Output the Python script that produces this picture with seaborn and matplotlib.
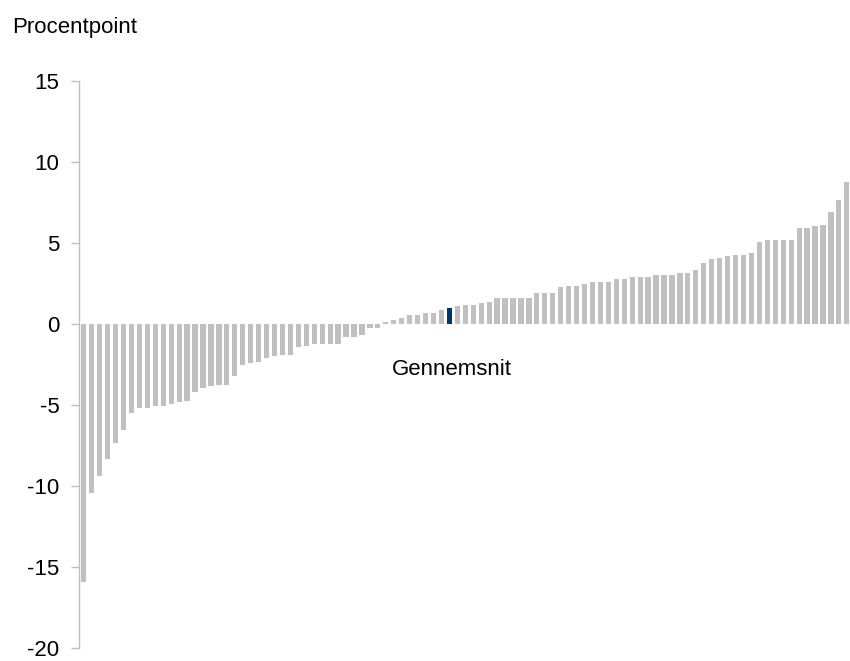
import matplotlib
matplotlib.use('Agg')
import matplotlib.pyplot as plt
import numpy as np
import pandas as pd
import seaborn as sns

# data (sorted, percentage points)
values = [-15.9, -10.45, -9.36, -8.31, -7.33, -6.52, -5.47, -5.16, -5.16, -5.05,
          -5.05, -4.93, -4.80, -4.74, -4.19, -3.94, -3.82, -3.75, -3.75, -3.20,
          -2.52, -2.40, -2.34, -2.10, -1.98, -1.91, -1.91, -1.42, -1.36, -1.23,
          -1.23, -1.23, -1.23, -0.80, -0.80, -0.69, -0.25, -0.22, 0.10, 0.23,
          0.35, 0.53, 0.53, 0.66, 0.66, 0.88, 0.97, 1.09, 1.20, 1.20,
          1.32, 1.38, 1.63, 1.63, 1.63, 1.63, 1.63, 1.93, 1.93, 1.93,
          2.30, 2.37, 2.37, 2.49, 2.61, 2.61, 2.61, 2.80, 2.80, 2.92,
          2.92, 2.92, 3.05, 3.05, 3.05, 3.17, 3.17, 3.35, 3.79, 4.04,
          4.05, 4.18, 4.24, 4.24, 4.36, 5.04, 5.16, 5.16, 5.16, 5.16,
          5.91, 5.91, 6.03, 6.09, 6.89, 7.63, 8.74]
avg_index = 46
avg_label = 'Gennemsnit'
y_label = 'Procentpoint'
y_ticks = [-20, -15, -10, -5, 0, 5, 10, 15]

grey = '#C0C0C0'
navy = '#003366'
axis_col = '#BFBFBF'

sns.set_style('white')
plt.rcParams['font.family'] = ['Liberation Sans', 'DejaVu Sans']
plt.rcParams['font.size'] = 16
plt.rcParams['axes.unicode_minus'] = False
plt.rcParams['text.color'] = 'black'

df = pd.DataFrame({'pos': np.arange(len(values)), 'value': values})

fig = plt.figure(figsize=(8.5, 6.61), dpi=100)
ax = fig.add_axes([79 / 850, 1 - 648 / 661, 771 / 850, 567 / 661])

sns.barplot(data=df, x='pos', y='value', color=grey, saturation=1,
            width=0.66, ax=ax)
# average bar in dark blue
ax.patches[avg_index].set_facecolor(navy)
for p in ax.patches:
    p.set_edgecolor('none')

ax.set_xlim(-0.6, len(values) - 0.6)
ax.set_ylim(-20, 15)
ax.set_yticks(y_ticks)
ax.set_xticks([])
ax.set_xlabel('')
ax.set_ylabel('')

for s in ['top', 'right', 'bottom']:
    ax.spines[s].set_visible(False)
ax.spines['left'].set_color(axis_col)
ax.spines['left'].set_linewidth(1)
ax.tick_params(axis='y', left=True, direction='out', length=6, width=1,
               color=axis_col, pad=8, labelsize=16, labelcolor='black')

ax.text(avg_index + 0.35, -2.8, avg_label, ha='center', va='center', fontsize=16, color='black')
fig.text(12 / 850, 1 - 33 / 661, y_label, ha='left', va='baseline', fontsize=16, color='black')

fig.savefig('out.png', dpi=100)
